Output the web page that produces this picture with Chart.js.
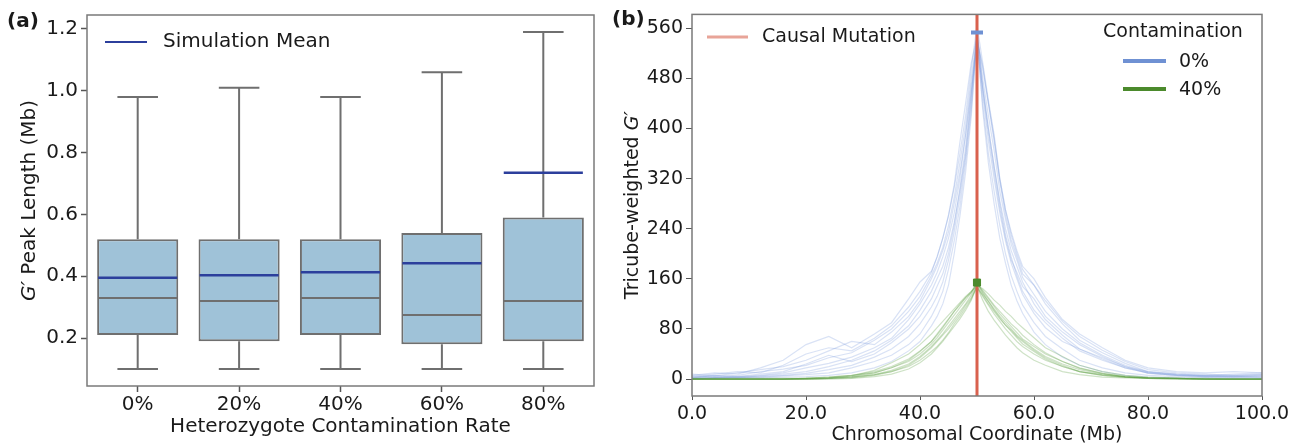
<!DOCTYPE html>
<html>
<head>
<meta charset="utf-8">
<script src="https://cdn.jsdelivr.net/npm/chart.js@4.4.1/dist/chart.umd.min.js"></script>
<style>
  html, body { margin: 0; padding: 0; background: #fff; }
  #wrapA { position: absolute; left: 0; top: 0; width: 610px; height: 445px; }
  #wrapB { position: absolute; left: 610px; top: 0; width: 691px; height: 445px; }
</style>
</head>
<body>
<div id="wrapA"><canvas id="chartA" width="610" height="445"></canvas></div>
<div id="wrapB"><canvas id="chartB" width="691" height="445"></canvas></div>
<script>
// ---- panel (a): peak length box plots ----
const categories = ["0%", "20%", "40%", "60%", "80%"];
const whiskerLow = [0.10, 0.10, 0.10, 0.10, 0.10];
const q1 = [0.21, 0.19, 0.21, 0.18, 0.19];
const median = [0.33, 0.32, 0.33, 0.275, 0.32];
const q3 = [0.52, 0.52, 0.52, 0.54, 0.59];
const whiskerHigh = [0.98, 1.01, 0.98, 1.06, 1.19];
const simMean = [0.395, 0.403, 0.413, 0.442, 0.735];
const yTicksA = [0.2, 0.4, 0.6, 0.8, 1.0, 1.2];

// ---- panel (b): tricube-weighted G' traces ----
const xGrid = [0, 4, 8, 12, 16, 20, 24, 28, 32, 35, 38, 40, 42, 43, 44, 45, 46, 47, 48, 49,
               50, 51, 52, 53, 54, 55, 56, 57, 58, 60, 62, 65, 68, 72, 76, 80, 85, 90, 95, 100];

// contamination 0%
const blue1 = [6, 10, 8, 18, 30, 55, 68, 50, 72, 90, 128, 155, 172, 195, 225, 262, 310, 378, 440, 505,
               545, 495, 440, 380, 315, 262, 222, 195, 168, 150, 120, 88, 62, 42, 25, 12, 8, 6, 8, 10];
const blue2 = [2, 3, 2, 5, 8, 12, 20, 30, 45, 62, 85, 110, 140, 160, 180, 210, 250, 300, 360, 450,
               560, 470, 400, 340, 280, 230, 195, 165, 140, 110, 90, 65, 45, 30, 18, 10, 6, 4, 3, 3];
const blue3 = [1, 1, 2, 2, 3, 4, 6, 10, 18, 28, 45, 60, 85, 100, 120, 150, 200, 260, 330, 420,
               550, 430, 345, 280, 225, 185, 150, 125, 105, 75, 55, 35, 22, 12, 6, 3, 2, 2, 1, 1];
const blue4 = [3, 5, 4, 6, 10, 18, 25, 35, 50, 65, 95, 120, 150, 170, 195, 225, 265, 320, 390, 470,
               540, 500, 440, 385, 320, 270, 235, 205, 180, 160, 130, 95, 72, 50, 30, 18, 12, 10, 12, 10];
const blue5 = [8, 5, 10, 15, 20, 30, 45, 60, 55, 75, 100, 125, 160, 180, 205, 235, 280, 330, 390, 460,
               530, 465, 400, 340, 285, 240, 205, 180, 155, 120, 95, 70, 48, 32, 18, 10, 6, 5, 4, 6];
const blue6 = [0, 2, 3, 4, 6, 9, 15, 22, 35, 48, 68, 88, 115, 132, 155, 190, 235, 290, 355, 440,
               555, 455, 380, 320, 265, 220, 185, 160, 135, 105, 82, 60, 48, 34, 20, 12, 8, 6, 5, 4];
const blue7 = [4, 8, 12, 10, 22, 40, 50, 45, 65, 85, 115, 140, 170, 195, 225, 260, 305, 360, 420, 495,
               565, 505, 445, 390, 320, 270, 230, 200, 175, 150, 125, 92, 68, 46, 28, 15, 10, 8, 6, 7];
const blue8 = [1, 2, 3, 3, 5, 7, 10, 18, 28, 38, 55, 72, 100, 118, 140, 175, 220, 275, 345, 430,
               540, 440, 360, 300, 245, 200, 165, 140, 118, 90, 68, 48, 30, 18, 10, 6, 4, 3, 3, 2];
const blue9 = [5, 3, 6, 12, 16, 22, 34, 42, 62, 80, 108, 132, 165, 185, 210, 245, 290, 345, 405, 480,
               550, 480, 420, 365, 300, 255, 215, 190, 162, 135, 108, 80, 58, 38, 22, 11, 7, 5, 6, 8];
const blue10 = [2, 6, 4, 8, 12, 24, 38, 28, 40, 58, 80, 100, 128, 148, 168, 200, 245, 305, 370, 455,
                548, 462, 392, 330, 272, 225, 190, 170, 148, 128, 100, 75, 55, 36, 20, 9, 6, 4, 4, 5];

// contamination 40%
const green1 = [1, 1, 1, 1, 1, 1, 3, 6, 12, 20, 32, 45, 60, 70, 82, 95, 108, 118, 130, 140,
                152, 142, 130, 118, 108, 98, 88, 80, 70, 55, 42, 28, 18, 9, 4, 2, 1, 0, 0, 0];
const green2 = [0, 0, 0, 0, 0, 0, 1, 3, 7, 14, 24, 36, 52, 62, 72, 84, 96, 108, 120, 134,
                150, 136, 124, 112, 100, 90, 80, 70, 62, 48, 36, 24, 15, 8, 4, 2, 1, 0, 0, 0];
const green3 = [0, 0, 0, 0, 0, 1, 2, 5, 14, 26, 40, 55, 72, 82, 92, 102, 112, 122, 132, 140,
                148, 132, 118, 104, 92, 80, 70, 60, 52, 40, 30, 20, 12, 6, 3, 1, 0, 0, 0, 0];
const green4 = [0, 0, 0, 0, 0, 0, 1, 3, 7, 12, 20, 30, 44, 52, 62, 74, 88, 100, 114, 128,
                150, 144, 136, 126, 118, 108, 100, 90, 82, 66, 50, 36, 22, 12, 6, 3, 1, 1, 0, 0];
const green5 = [0, 0, 0, 0, 0, 1, 3, 6, 10, 18, 30, 44, 60, 72, 84, 96, 108, 120, 130, 138,
                155, 138, 124, 110, 98, 86, 76, 66, 56, 44, 32, 20, 12, 7, 3, 2, 1, 0, 0, 0];
const green6 = [0, 0, 0, 0, 0, 0, 0, 1, 4, 8, 16, 26, 40, 50, 60, 72, 84, 96, 110, 126,
                148, 126, 108, 94, 82, 70, 60, 50, 42, 30, 22, 12, 7, 3, 2, 1, 0, 0, 0, 0];
const green7 = [0, 0, 0, 0, 0, 1, 2, 4, 10, 18, 28, 40, 56, 66, 78, 90, 102, 114, 126, 138,
                152, 140, 128, 116, 104, 94, 84, 74, 64, 52, 40, 28, 17, 9, 4, 2, 1, 0, 0, 0];
const green8 = [0, 0, 0, 0, 0, 0, 1, 2, 6, 12, 22, 34, 50, 60, 70, 80, 92, 104, 118, 130,
                146, 134, 120, 108, 96, 86, 78, 68, 60, 46, 34, 22, 12, 6, 3, 1, 1, 0, 0, 0];

const causalPos = 50;
const peakMean0 = 553;
const peakMean40 = 154;
const yTicksB = [0, 80, 160, 240, 320, 400, 480, 560];
const xTicksB = [0, 20, 40, 60, 80, 100];

const FONT = "'DejaVu Sans', 'Liberation Sans', sans-serif";
const GREY = "#6f6f6f";

// boxplot extras: whiskers, caps, medians, means + frame and text
const boxExtras = {
  id: "boxExtras",
  afterDatasetsDraw(chart) {
    const { ctx, chartArea: a, scales: { x, y } } = chart;
    const meta = chart.getDatasetMeta(0);
    ctx.save();
    ctx.lineCap = "butt";
    categories.forEach((c, i) => {
      const cx = x.getPixelForValue(i);
      const half = meta.data[i].width / 2;
      const cap = half / 2;
      ctx.strokeStyle = GREY;
      ctx.lineWidth = 2;
      ctx.beginPath();
      ctx.moveTo(cx, y.getPixelForValue(q3[i]));
      ctx.lineTo(cx, y.getPixelForValue(whiskerHigh[i]));
      ctx.moveTo(cx, y.getPixelForValue(q1[i]));
      ctx.lineTo(cx, y.getPixelForValue(whiskerLow[i]));
      ctx.moveTo(cx - cap, y.getPixelForValue(whiskerHigh[i]));
      ctx.lineTo(cx + cap, y.getPixelForValue(whiskerHigh[i]));
      ctx.moveTo(cx - cap, y.getPixelForValue(whiskerLow[i]));
      ctx.lineTo(cx + cap, y.getPixelForValue(whiskerLow[i]));
      ctx.moveTo(cx - half + 1, y.getPixelForValue(median[i]));
      ctx.lineTo(cx + half - 1, y.getPixelForValue(median[i]));
      ctx.stroke();
      ctx.strokeStyle = "#2c3f9c";
      ctx.lineWidth = 2.5;
      ctx.beginPath();
      ctx.moveTo(cx - half + 1, y.getPixelForValue(simMean[i]));
      ctx.lineTo(cx + half - 1, y.getPixelForValue(simMean[i]));
      ctx.stroke();
    });

    // frame
    ctx.strokeStyle = "#7a7a7a";
    ctx.lineWidth = 1.5;
    ctx.strokeRect(a.left, a.top, a.right - a.left, a.bottom - a.top);

    // legend
    ctx.strokeStyle = "#2c3f9c";
    ctx.lineWidth = 2;
    ctx.beginPath();
    ctx.moveTo(105, 42);
    ctx.lineTo(147, 42);
    ctx.stroke();
    ctx.fillStyle = "#1a1a1a";
    ctx.textBaseline = "middle";
    ctx.textAlign = "left";
    ctx.font = "20px " + FONT;
    ctx.fillText("Simulation Mean", 163, 42);

    // panel label
    ctx.font = "bold 20px " + FONT;
    ctx.fillText("(a)", 7, 22);

    // axis titles
    ctx.font = "20px " + FONT;
    ctx.textAlign = "center";
    ctx.fillText("Heterozygote Contamination Rate", (a.left + a.right) / 2, 427);

    ctx.translate(30, (a.top + a.bottom) / 2);
    ctx.rotate(-Math.PI / 2);
    const p1 = "G\u2032", p2 = " Peak Length (Mb)";
    ctx.font = "italic 20px " + FONT;
    const w1 = ctx.measureText(p1).width;
    ctx.font = "20px " + FONT;
    const w2 = ctx.measureText(p2).width;
    ctx.textAlign = "left";
    ctx.font = "italic 20px " + FONT;
    ctx.fillText(p1, -(w1 + w2) / 2, 0);
    ctx.font = "20px " + FONT;
    ctx.fillText(p2, -(w1 + w2) / 2 + w1, 0);
    ctx.restore();
  }
};

new Chart(document.getElementById("chartA"), {
  type: "bar",
  data: {
    labels: categories,
    datasets: [{
      label: "IQR",
      data: categories.map((c, i) => [q1[i], q3[i]]),
      backgroundColor: "#9fc2d8",
      borderColor: GREY,
      borderWidth: 2,
      borderSkipped: false,
      barPercentage: 0.8,
      categoryPercentage: 1,
    }],
  },
  options: {
    responsive: false,
    animation: false,
    layout: { padding: { left: 0, right: 16, top: 15, bottom: 0 } },
    plugins: { legend: { display: false }, tooltip: { enabled: false } },
    scales: {
      x: {
        grid: { offset: false, drawOnChartArea: false, tickLength: 6, color: "#555", tickWidth: 1.5 },
        border: { display: false },
        ticks: { color: "#1a1a1a", font: { family: FONT, size: 20 }, padding: 1 },
        afterFit: (s) => { s.height = 59; },
      },
      y: {
        min: 0.045,
        max: 1.245,
        afterBuildTicks: (s) => { s.ticks = yTicksA.map((v) => ({ value: v })); },
        grid: { drawOnChartArea: false, tickLength: 6, color: "#555", tickWidth: 1.5 },
        border: { display: false },
        ticks: {
          color: "#1a1a1a",
          font: { family: FONT, size: 20 },
          padding: 3,
          callback: (v) => Number(v).toFixed(1),
        },
        afterFit: (s) => { s.width = 87; },
      },
    },
  },
  plugins: [boxExtras],
});

// ---- panel (b) ----
const toPoints = (arr) => xGrid.map((x, i) => ({ x: x, y: arr[i] }));
const traceSet = (arr, color, order) => ({
  data: toPoints(arr),
  borderColor: color,
  borderWidth: 1.2,
  pointRadius: 0,
  tension: 0,
  fill: false,
  order: order,
});

const blueTraces = [blue1, blue2, blue3, blue4, blue5, blue6, blue7, blue8, blue9, blue10];
const greenTraces = [green1, green2, green3, green4, green5, green6, green7, green8];
const yMinB = -27, yMaxB = 582;

const tracePanel = {
  id: "tracePanel",
  afterDraw(chart) {
    const { ctx, chartArea: a } = chart;
    ctx.save();
    ctx.strokeStyle = "#7a7a7a";
    ctx.lineWidth = 1.5;
    ctx.strokeRect(a.left, a.top, a.right - a.left, a.bottom - a.top);

    ctx.textBaseline = "middle";
    ctx.textAlign = "left";
    ctx.fillStyle = "#1a1a1a";

    // causal mutation legend
    ctx.lineWidth = 3;
    ctx.strokeStyle = "#e8a498";
    ctx.beginPath(); ctx.moveTo(97, 37); ctx.lineTo(138, 37); ctx.stroke();
    ctx.font = "19px " + FONT;
    ctx.fillText("Causal Mutation", 152, 37);

    // contamination legend
    ctx.fillText("Contamination", 493, 32);
    ctx.lineWidth = 4;
    ctx.strokeStyle = "#6f91d3";
    ctx.beginPath(); ctx.moveTo(513, 61); ctx.lineTo(556, 61); ctx.stroke();
    ctx.strokeStyle = "#4b8a2c";
    ctx.beginPath(); ctx.moveTo(513, 89); ctx.lineTo(556, 89); ctx.stroke();
    ctx.fillText("0%", 569, 62);
    ctx.fillText("40%", 569, 90);

    // panel label
    ctx.font = "bold 20px " + FONT;
    ctx.fillText("(b)", 2, 20);

    // axis titles
    ctx.font = "19px " + FONT;
    ctx.textAlign = "center";
    ctx.fillText("Chromosomal Coordinate (Mb)", (a.left + a.right) / 2, 435);

    ctx.translate(23, (a.top + a.bottom) / 2);
    ctx.rotate(-Math.PI / 2);
    const p1 = "Tricube-weighted ", p2 = "G\u2032";
    ctx.font = "19px " + FONT;
    const w1 = ctx.measureText(p1).width;
    ctx.font = "italic 19px " + FONT;
    const w2 = ctx.measureText(p2).width;
    ctx.textAlign = "left";
    ctx.font = "19px " + FONT;
    ctx.fillText(p1, -(w1 + w2) / 2, 0);
    ctx.font = "italic 19px " + FONT;
    ctx.fillText(p2, -(w1 + w2) / 2 + w1, 0);
    ctx.restore();
  }
};

new Chart(document.getElementById("chartB"), {
  type: "line",
  data: {
    datasets: [
      {
        label: "mean 0%",
        data: [{ x: causalPos, y: peakMean0 }],
        showLine: false,
        pointStyle: "line",
        pointRadius: 6,
        borderWidth: 4,
        backgroundColor: "#6f91d3",
        borderColor: "#6f91d3",
        order: 0,
      },
      {
        label: "mean 40%",
        data: [{ x: causalPos, y: peakMean40 }],
        showLine: false,
        pointStyle: "rect",
        pointRadius: 5,
        backgroundColor: "#4b8a2c",
        borderColor: "#4b8a2c",
        order: 0,
      },
      {
        label: "Causal Mutation",
        data: [{ x: causalPos, y: yMinB }, { x: causalPos, y: yMaxB }],
        borderColor: "#d9614e",
        borderWidth: 3,
        pointRadius: 0,
        order: 1,
      },
      ...greenTraces.map((t) => traceSet(t, "rgba(80, 150, 50, 0.28)", 2)),
      ...blueTraces.map((t) => traceSet(t, "rgba(120, 152, 218, 0.28)", 3)),
    ],
  },
  options: {
    responsive: false,
    animation: false,
    layout: { padding: { left: 0, right: 39, top: 7, bottom: 0 } },
    plugins: { legend: { display: false }, tooltip: { enabled: false } },
    scales: {
      x: {
        type: "linear",
        min: 0,
        max: 100,
        afterBuildTicks: (s) => { s.ticks = xTicksB.map((v) => ({ value: v })); },
        grid: { drawOnChartArea: false, tickLength: 4, color: "#555" },
        border: { display: false },
        ticks: {
          color: "#1a1a1a",
          font: { family: FONT, size: 19 },
          padding: 3,
          maxRotation: 0,
          callback: (v) => Number(v).toFixed(1),
        },
        afterFit: (s) => { s.height = 49; },
      },
      y: {
        min: yMinB,
        max: yMaxB,
        afterBuildTicks: (s) => { s.ticks = yTicksB.map((v) => ({ value: v })); },
        grid: { drawOnChartArea: false, tickLength: 6, color: "#555" },
        border: { display: false },
        ticks: { color: "#1a1a1a", font: { family: FONT, size: 19 }, padding: 3 },
        afterFit: (s) => { s.width = 82; },
      },
    },
  },
  plugins: [tracePanel],
});
</script>
</body>
</html>
